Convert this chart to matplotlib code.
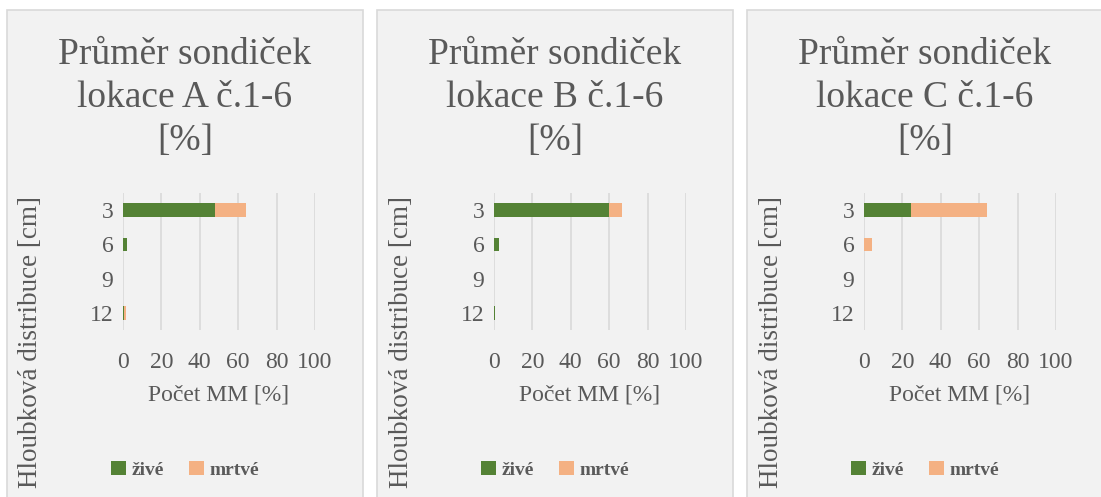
import matplotlib.pyplot as plt
from matplotlib.patches import Rectangle

# hloubky (kategorie na ose y)
depths = ['3', '6', '9', '12']
locations = ['A', 'B', 'C']

# procenta zivych / mrtvych MM pro jednotlive lokace
zive_A = [48, 2, 0, 0.5]
mrtve_A = [16, 0, 0, 1]
zive_B = [60, 2.5, 0, 0.7]
mrtve_B = [6.5, 0, 0, 0]
zive_C = [24.5, 0, 0, 0]
mrtve_C = [39.5, 4, 0, 0]

zive = [zive_A, zive_B, zive_C]
mrtve = [mrtve_A, mrtve_B, mrtve_C]

xticks = [0, 20, 40, 60, 80, 100]

GREEN = '#548235'
ORANGE = '#f4b183'
TXT = '#595959'

plt.rcParams['font.family'] = ['Liberation Serif', 'DejaVu Serif']

W, H = 1101, 497
fig = plt.figure(figsize=(W / 100, H / 100), dpi=100)
fig.patch.set_facecolor('white')

# panel x positions in pixels (left, right)
panels = [(7, 363), (377, 733), (747, 1103)]
axes_x0 = [123, 494, 864]
axes_w = 192
axes_top, axes_bot = 193, 330

for i, loc in enumerate(locations):
    pl, pr = panels[i]
    fig.patches.append(Rectangle((pl / W, -0.01), (pr - pl) / W, (H - 10) / H + 0.01,
                                 transform=fig.transFigure, facecolor='#f2f2f2',
                                 edgecolor='#d9d9d9', linewidth=1.2, zorder=-5))
    cx = (pl + pr) / 2 / W
    fig.text(cx, 1 - 98 / H, 'Průměr sondiček\nlokace ' + loc + ' č.1-6\n[%]',
             ha='center', va='center', fontsize=27, color=TXT, linespacing=1.32)

    ax = fig.add_axes([axes_x0[i] / W, 1 - axes_bot / H, axes_w / W,
                       (axes_bot - axes_top) / H])
    ax.set_facecolor('none')
    y = range(len(depths))
    ax.barh(y, zive[i], height=0.4, color=GREEN, label='živé', zorder=3)
    ax.barh(y, mrtve[i], left=zive[i], height=0.4, color=ORANGE, label='mrtvé', zorder=3)
    ax.set_xlim(0, 100)
    ax.set_ylim(3.5, -0.5)
    ax.set_yticks(list(y))
    ax.set_yticklabels(depths)
    ax.set_xticks(xticks)
    ax.grid(axis='x', color='#d9d9d9', linewidth=1.2, zorder=0)
    for s in ax.spines.values():
        s.set_visible(False)
    ax.tick_params(length=0, labelsize=17, colors=TXT)
    ax.tick_params(axis='y', pad=7)
    ax.tick_params(axis='x', pad=16)
    ax.set_xlabel('Počet MM [%]', fontsize=17, color=TXT, labelpad=8)

    fig.text((pl + 24) / W, 1 - 342 / H, 'Hloubková distribuce [cm]', rotation=90,
             ha='center', va='center', fontsize=19.5, color=TXT)

    leg = fig.legend(*ax.get_legend_handles_labels(), loc='center',
                     bbox_to_anchor=(cx, 1 - 470 / H),
                     ncol=2, frameon=False, handlelength=0.75, handleheight=0.75,
                     columnspacing=1.3, handletextpad=0.3,
                     prop={'family': 'Liberation Serif', 'size': 14, 'weight': 'bold'})
    for t in leg.get_texts():
        t.set_color('#5a5a5a')

fig.savefig('out.png', dpi=100, facecolor='white')
